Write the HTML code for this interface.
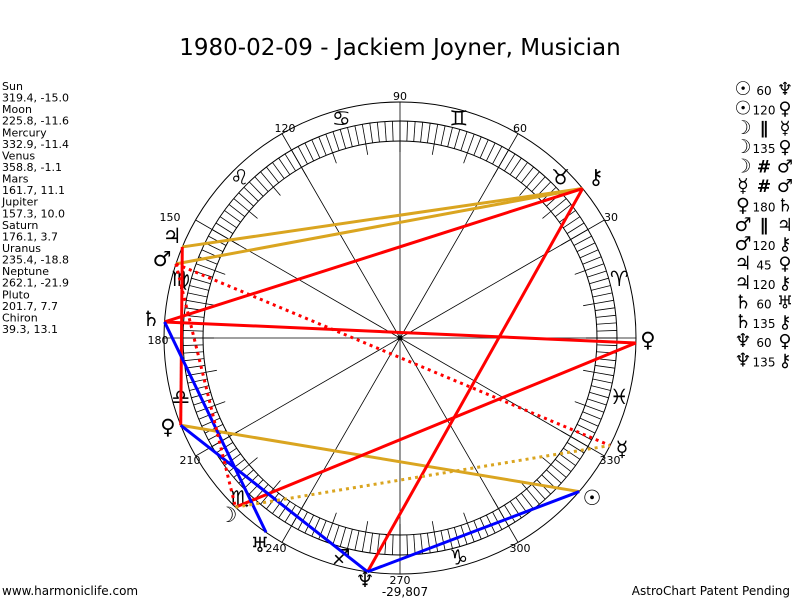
<!DOCTYPE html>
<html><head><meta charset="utf-8"><style>
body{margin:0;background:#fff;width:800px;height:600px;overflow:hidden;font-family:"Liberation Sans","DejaVu Sans",sans-serif}
svg{position:absolute;left:0;top:0}
</style></head><body>
<svg id="s" width="800" height="600" xmlns="http://www.w3.org/2000/svg">
<text x="400" y="55" font-size="23" text-anchor="middle" font-family="DejaVu Sans, sans-serif">1980-02-09 - Jackiem Joyner, Musician</text>
<text x="2" y="595" font-size="12" font-family="DejaVu Sans, sans-serif">www.harmoniclife.com</text>
<text x="790" y="595" font-size="12" text-anchor="end" font-family="DejaVu Sans, sans-serif">AstroChart Patent Pending</text>
</svg>
<script>
const s=document.getElementById('s'),NS='http://www.w3.org/2000/svg';
const cx=400,cy=338,R=236;
function el(t,a,txt){const e=document.createElementNS(NS,t);for(const k in a)e.setAttribute(k,a[k]);if(txt!=null)e.textContent=txt;s.appendChild(e);return e;}
function P(d,r){const a=d*Math.PI/180;return[cx+r*Math.cos(a),cy-r*Math.sin(a)];}
el('circle',{cx,cy,r:R,fill:'none',stroke:'#000','stroke-width':1});
el('circle',{cx,cy,r:217,fill:'none',stroke:'#000','stroke-width':1});
el('circle',{cx,cy,r:197,fill:'none',stroke:'#000','stroke-width':1});
for(let d=0;d<360;d+=2){const a=P(d,197),b=P(d,217);el('line',{x1:a[0],y1:a[1],x2:b[0],y2:b[1],stroke:'#000','stroke-width':0.8});}
for(let d=0;d<360;d+=10){const a=P(d,186),b=P(d,197);el('line',{x1:a[0],y1:a[1],x2:b[0],y2:b[1],stroke:'#000','stroke-width':0.8});}
for(let d=0;d<360;d+=30){const b=P(d,R);el('line',{x1:cx,y1:cy,x2:b[0],y2:b[1],stroke:'#000','stroke-width':0.8});}
el('circle',{cx,cy,r:2.5,fill:'#000'});
const labs=[[30,611,217],[60,520,128],[90,400,96],[120,285,128],[150,170,217],[180,158,340],[210,190,460],[240,276,548],[270,400,580],[300,520,548],[330,610,460]];
labs.forEach(l=>el('text',{x:l[1],y:l[2]+4,'font-size':11,'text-anchor':'middle','font-family':'DejaVu Sans, sans-serif'},String(l[0])));
el('text',{x:405,y:596,'font-size':12,'text-anchor':'middle','font-family':'DejaVu Sans, sans-serif'},'-29,807');
const zod=['♈','♉','♊','♋','♌','♍','♎','♏','♐','♑','♒','♓'];
zod.forEach((z,i)=>{if(i==10)return;const p=P(i*30+15,227);el('text',{x:p[0],y:p[1]+7,'font-size':21,'text-anchor':'middle','font-family':'DejaVu Sans, sans-serif'},z);});
const pl={Sun:319.4,Moon:225.8,Mer:332.9,Ven:358.8,Mar:161.7,Jup:157.3,Sat:176.1,Ura:235.4,Nep:262.1,Plu:201.7,Chi:39.3};
const red='#ff0000',gold='#daa520',blue='#0000ff';
const L=[['Chi','Jup',gold],['Chi','Mar',gold],['Plu','Sun',gold],['Chi','Sat',red],['Chi','Nep',red],['Sat','Ven',red],['Jup','Plu',red],['Ven','Moon',red],['Sun','Nep',blue],['Sat','Ura',blue],['Plu','Nep',blue],['Mar','Mer',red,1],['Mar','Moon',red,1],['Moon','Mer',gold,1]];
L.forEach(l=>{const a=P(pl[l[0]],R),b=P(pl[l[1]],R);const o={x1:a[0],y1:a[1],x2:b[0],y2:b[1],stroke:l[2],'stroke-width':3};if(l[3])o['stroke-dasharray']='3,4';el('line',o);});
const g=[['♃',172,236],['♂',162,259],['♄',151,319],['♀',168,427],['☽',228,515],['♅',260,545],['♆',365,580],['☉',592,498],['☿',622,449],['♀',648,340],['⚷',596,177]];
g.forEach(q=>el('text',{x:q[1],y:q[2]+7,'font-size':21,'text-anchor':'middle','font-family':'DejaVu Sans, sans-serif'},q[0]));
const left=['Sun','319.4, -15.0','Moon','225.8, -11.6','Mercury','332.9, -11.4','Venus','358.8, -1.1','Mars','161.7, 11.1','Jupiter','157.3, 10.0','Saturn','176.1, 3.7','Uranus','235.4, -18.8','Neptune','262.1, -21.9','Pluto','201.7, 7.7','Chiron','39.3, 13.1'];
left.forEach((t,i)=>el('text',{x:2,y:90+i*11.57,'font-size':11,'font-family':'DejaVu Sans, sans-serif'},t));
const asp=[['☉','60','♆'],['☉','120','♀'],['☽','∥','☿'],['☽','135','♀'],['☽','#','♂'],['☿','#','♂'],['♀','180','♄'],['♂','∥','♃'],['♂','120','⚷'],['♃','45','♀'],['♃','120','⚷'],['♄','60','♅'],['♄','135','⚷'],['♆','60','♀'],['♆','135','⚷']];
asp.forEach((a,i)=>{const y=95+i*19.4;el('text',{x:743,y,'font-size':19,'text-anchor':'middle','font-family':'DejaVu Sans, sans-serif','font-weight':'bold'},a[0]);
el('text',{x:764,y:y,'font-size':(a[1]=='#'||a[1]=='∥')?17:12,'text-anchor':'middle','font-family':'DejaVu Sans, sans-serif','font-weight':(a[1]=='#'||a[1]=='∥')?'bold':'normal'},a[1]);
el('text',{x:785,y,'font-size':18,'text-anchor':'middle','font-family':'DejaVu Sans, sans-serif'},a[2]);});
</script>
</body></html>
